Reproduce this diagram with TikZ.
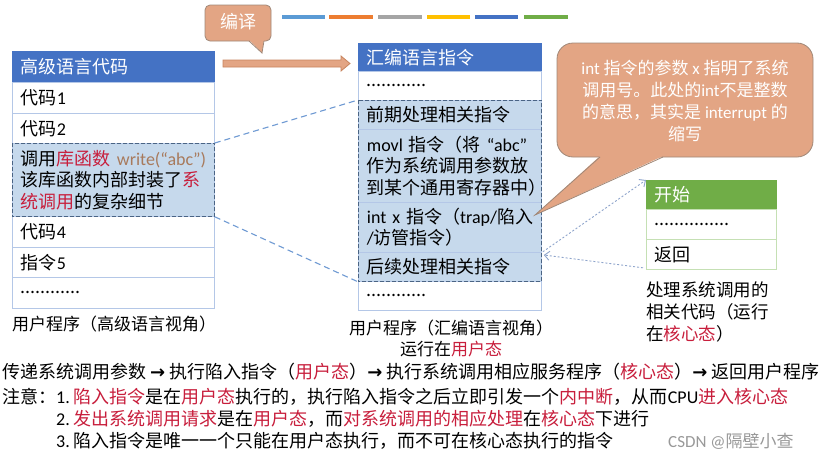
\documentclass[tikz,border=0pt]{standalone}
\usepackage{fontspec}
\setmainfont{Noto Sans CJK SC}
\newfontfamily\latinfnt{Carlito}
\newfontfamily\symfnt{DejaVu Sans}
\newcommand\ltn[1]{{\latinfnt #1}}
\newcommand\barr{{\symfnt\bfseries\fontsize{18}{20}\selectfont →}}
\usetikzlibrary{arrows.meta,calc}
\definecolor{tline}{HTML}{B4C7E7}
\definecolor{hlfill}{HTML}{C6D9EC}
\definecolor{hlborder}{HTML}{4A6484}
\definecolor{hdrblue}{HTML}{4472C4}
\definecolor{connc}{HTML}{6F9AD3}
\definecolor{dotc}{HTML}{8FA5CC}
\definecolor{callfill}{HTML}{E3A584}
\definecolor{callline}{HTML}{A08878}
\definecolor{redc}{HTML}{C81E3C}
\definecolor{wcol}{HTML}{A87A5C}
\definecolor{hdrgreen}{HTML}{70AD47}
\definecolor{gline}{HTML}{C5E0B4}
\definecolor{arrline}{HTML}{C8845E}
\newcommand\rd[1]{{\color{redc}#1}}
\begin{document}
\begin{tikzpicture}[x=1pt,y=-1pt,
  tfont/.style={font=\fontsize{18}{21.5}\selectfont},
  tcell/.style={tfont, draw=tline, line width=0.8pt, anchor=north west, inner xsep=8.5pt, inner ysep=0pt, align=left, text=black},
  hdr/.style={tcell, fill=hdrblue, draw=hdrblue, text=white},
  ghdr/.style={tcell, fill=hdrgreen, draw=hdrgreen, text=white},
  gcell/.style={tcell, draw=gline},
  hl/.style={fill=hlfill},
  hlbox/.style={draw=hlborder, line width=0.9pt, dash pattern=on 4pt off 2pt},
  conn/.style={draw=connc, line width=1.1pt, dash pattern=on 6pt off 4pt},
  dotarr/.style={draw=dotc, line width=0.9pt, dash pattern=on 2pt off 2pt, -{Straight Barb[length=5pt,width=9pt]}},
  callout/.style={fill=callfill, draw=callline, line width=0.8pt},
  caption/.style={font=\fontsize{17}{22}\selectfont, inner sep=0pt, text=black},
  btext/.style={font=\fontsize{18}{22}\selectfont, inner sep=0pt, anchor=west, text=black}
]
\useasboundingbox (0,0) rectangle (836,458);
\fill[white] (0,0) rectangle (836,458);

% colour strip
\foreach \xa/\xb/\c in {282/325/5B9BD5, 329/373/ED7D31, 378/422/A5A5A5, 427/470/FFC000, 475/518/4472C4, 524/568/70AD47}{
  \definecolor{tmpc}{HTML}{\c}
  \draw[tmpc, line width=3.5pt] (\xa,17) -- (\xb,17);
}

% left table
\node[hdr, text width=185pt, minimum height=31pt] (Lh) at (12,51) {高级语言代码};
\node[tcell, text width=185pt, minimum height=31pt] (L1) at (12,82) {代码\ltn{1}};
\node[tcell, text width=185pt, minimum height=30pt] (L2) at (12,113) {代码\ltn{2}};
\node[tcell, hl, text width=185pt, minimum height=73pt] (L3) at (12,143)
  {调用\rd{库函数}~{\color{wcol}\ltn{write(“abc”)}}\\该库函数内部封装了\rd{系}\\\rd{统调用}的复杂细节};
\node[tcell, text width=185pt, minimum height=31pt] (L4) at (12,216) {代码\ltn{4}};
\node[tcell, text width=185pt, minimum height=30pt] (L5) at (12,247) {指令\ltn{5}};
\node[tcell, text width=185pt, minimum height=31pt] (L6) at (12,277) {............};
\draw[hlbox] (L3.north west) rectangle (L3.south east);
\node[caption, anchor=west] (Lcap) at (12,324) {用户程序（高级语言视角）};

% middle table
\node[hdr, text width=166pt, minimum height=28pt] (Mh) at (358,43) {汇编语言指令};
\node[tcell, text width=166pt, minimum height=29pt] (M1) at (358,71) {............};
\node[tcell, hl, text width=166pt, minimum height=29pt] (M2) at (358,100) {前期处理相关指令};
\node[tcell, hl, text width=166pt, minimum height=73pt] (M3) at (358,129)
  {\ltn{movl}~指令（将~\ltn{“abc”}\\作为系统调用参数放\\到某个通用寄存器中）};
\node[tcell, hl, text width=166pt, minimum height=50pt] (M4) at (358,202)
  {\ltn{int~x}~指令（\ltn{trap/}陷入\\\ltn{/}访管指令）};
\node[tcell, hl, text width=166pt, minimum height=29pt] (M5) at (358,252) {后续处理相关指令};
\node[tcell, text width=166pt, minimum height=29pt] (M6) at (358,281) {............};
\draw[hlbox] (M2.north west) rectangle (M5.south east);
\node[caption] (Mcap) at (451,328) {用户程序（汇编语言视角）};
\node[caption] (Mcap2) at (451,349) {运行在\rd{用户态}};

% compile callout and arrow
\draw[callout, rounded corners=5pt] (205,5) rectangle (271,41);
\fill[callfill] (249,40) -- (262,53) -- (264,40) -- cycle;
\draw[callline, line width=0.8pt] (249,41) -- (262,53) -- (264,41);
\node[font=\fontsize{18}{22}\selectfont, text=white] (bianyi) at (238,22) {编译};
\filldraw[fill=callfill, draw=arrline, line width=0.8pt]
  (223,60) -- (341,60) -- (341,56) -- (350,63.5) -- (341,71) -- (341,67) -- (223,67) -- cycle;

% connectors from left to middle
\draw[conn] (L3.north east) -- (M2.north west);
\draw[conn] (L3.south east) -- (M5.south west);

% big callout
\draw[callout, rounded corners=16pt] (557,43) rectangle (813,157);
\fill[callfill] (600,156) -- (535,215) -- (663,156) -- cycle;
\draw[callline, line width=0.8pt] (600,157) -- (535,215) -- (663,157);
\node[font=\fontsize{17}{22}\selectfont, text=white, align=center] (note) at (685,101)
  {\ltn{int} 指令的参数 \ltn{x} 指明了系统\\调用号。此处的\ltn{int}不是整数\\的意思，其实是 \ltn{interrupt} 的\\缩写};

% green table
\node[ghdr, text width=113pt, minimum height=29pt] (Gh) at (646,180) {开始};
\node[gcell, text width=113pt, minimum height=30pt] (G1) at (646,209) {...............};
\node[gcell, text width=113pt, minimum height=30pt] (G2) at (646,239) {返回};
\node[caption, anchor=north west, align=left, font=\fontsize{17.5}{22}\selectfont] (Gcap) at (646,282)
  {处理系统调用的\\相关代码（运行\\在\rd{核心态}）};

% dotted arrows
\draw[dotarr] ($(M4.south east)+(1,-1)$) -- (Gh.north west);
\draw[dotarr] ($(G2.south west)+(-3,-2)$) -- ($(M5.north east)+(2,3)$);

% bottom text
\node[btext] (b1) at (2,372) {传递系统调用参数 \barr{} 执行陷入指令（\rd{用户态}）\barr{} 执行系统调用相应服务程序（\rd{核心态}）\barr{} 返回用户程序};
\node[btext] (b2) at (2,397) {注意：\ltn{1.}~\rd{陷入指令}是在\rd{用户态}执行的，执行陷入指令之后立即引发一个\rd{内中断}，从而\ltn{CPU}\rd{进入核心态}};
\node[btext] (b3) at (56,419) {\ltn{2.}~\rd{发出系统调用请求}是在\rd{用户态}，而\rd{对系统调用的相应处理}在\rd{核心态}下进行};
\node[btext] (b4) at (56,441) {\ltn{3.}~陷入指令是唯一一个只能在用户态执行，而不可在核心态执行的指令};
\node[btext, text=black!40, font=\fontsize{17}{20}\selectfont] (wm) at (668,441) {\ltn{CSDN @}隔壁小查};
\end{tikzpicture}
\end{document}
